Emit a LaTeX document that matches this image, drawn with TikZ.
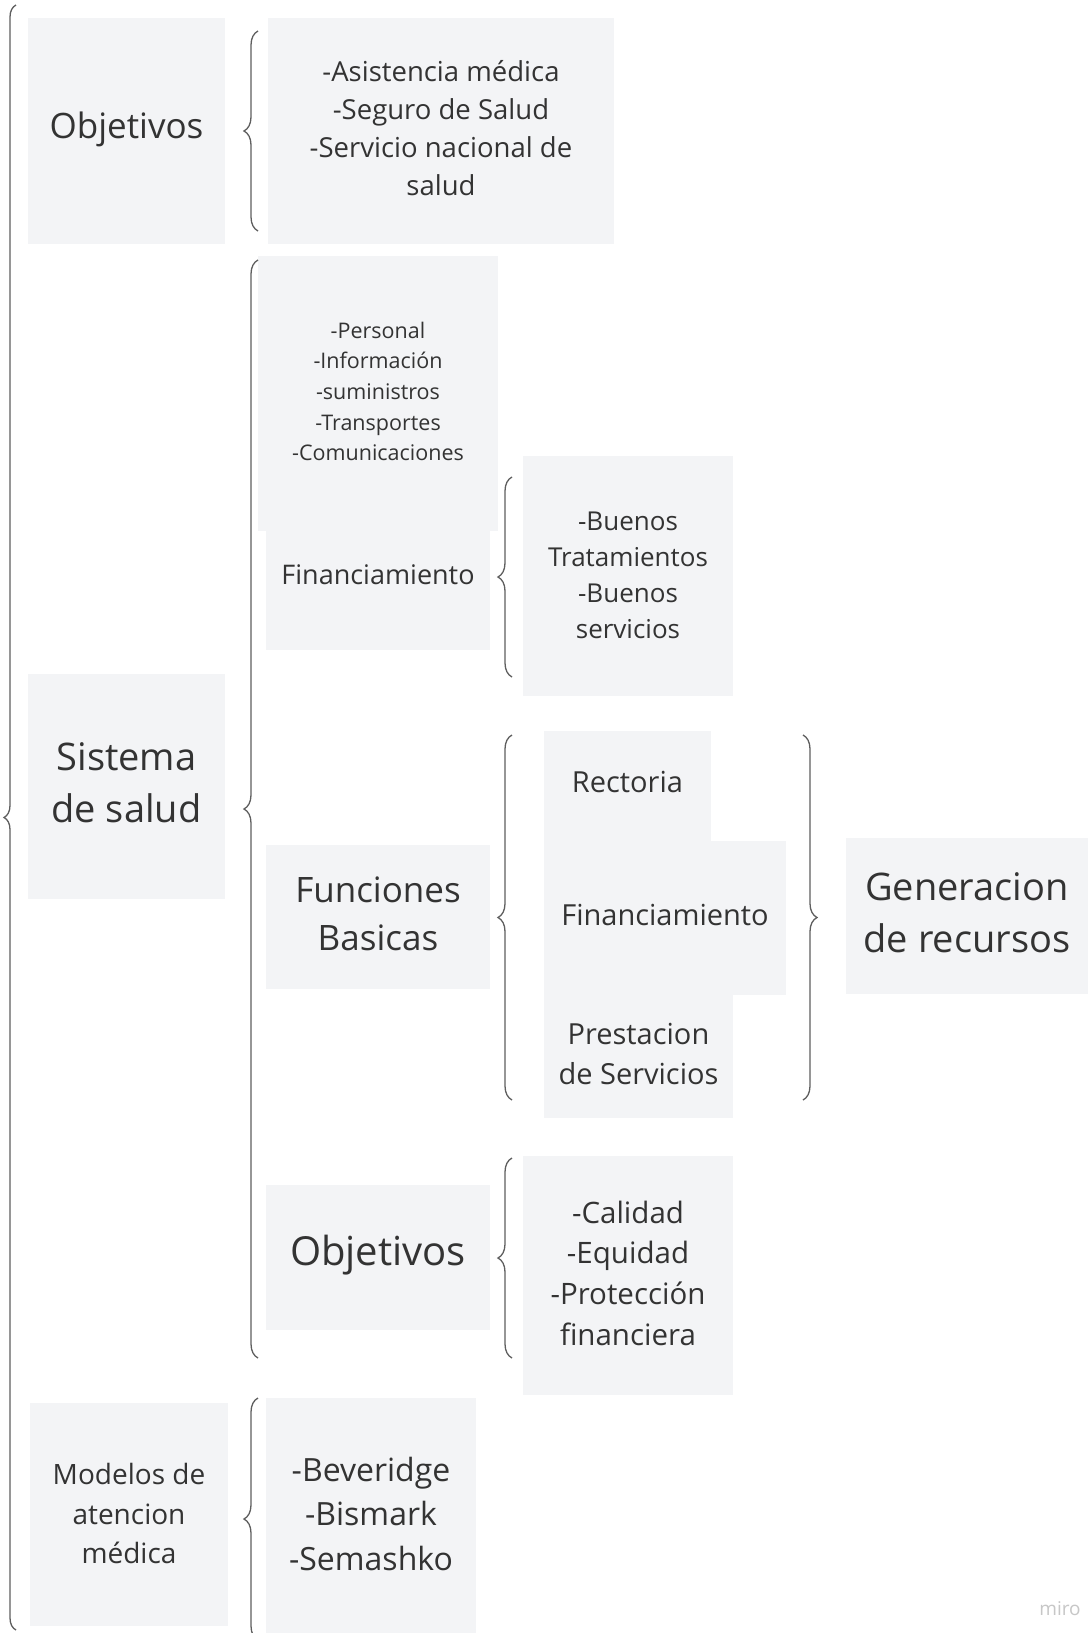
\documentclass[tikz,border=0pt]{standalone}
\usepackage{fontspec}
\setmainfont{Open Sans}
\usetikzlibrary{decorations.pathreplacing}
\definecolor{boxgray}{HTML}{F3F4F6}
\definecolor{txtgray}{HTML}{333333}
\definecolor{bracegray}{HTML}{5E5E5E}
\tikzset{
  box/.style={fill=boxgray, draw=none, inner sep=0pt},
  txt/.style={text=txtgray, align=center, inner sep=0pt},
  brc/.style={draw=bracegray, line width=1.3pt, decorate,
    decoration={brace, amplitude=14pt, aspect=0.5}},
  obrc/.style={draw=bracegray, line width=1.3pt, decorate,
    decoration={brace, amplitude=12pt, aspect=0.5}},
}
\newcommand{\fs}[2]{\fontsize{#1pt}{#2pt}\selectfont}
\begin{document}
\begin{tikzpicture}[x=1pt,y=-1pt]
\useasboundingbox (0,0) rectangle (1091,1633);
\fill[white] (0,0) rectangle (1091,1633);

% boxes
\node[box, minimum width=197, minimum height=226] (obj1) at (126.5,131) {};
\node[box, minimum width=346, minimum height=226] (asis) at (441,131) {};
\node[box, minimum width=197, minimum height=225] (sis) at (126.5,786.5) {};
\node[box, minimum width=240, minimum height=275] (pers) at (378,393.5) {};
\node[box, minimum width=224, minimum height=119] (fin1) at (378,590.5) {};
\node[box, minimum width=210, minimum height=240] (buen) at (628,576) {};
\node[box, minimum width=224, minimum height=144] (func) at (378,917) {};
\node[box, minimum width=167, minimum height=110] (rect) at (627.5,786) {};
\node[box, minimum width=242, minimum height=154] (fin2) at (665,918) {};
\node[box, minimum width=189, minimum height=123] (prest) at (638.5,1056.5) {};
\node[box, minimum width=242, minimum height=156] (gen) at (967,916) {};
\node[box, minimum width=224, minimum height=145] (obj2) at (378,1257.5) {};
\node[box, minimum width=210, minimum height=239] (cal) at (628,1275.5) {};
\node[box, minimum width=198, minimum height=223] (mod) at (129,1514.5) {};
\node[box, minimum width=210, minimum height=235] (bev) at (371,1515.5) {};

% texts
\node[txt, font=\fs{35}{46}] (obj1t) at (126.5,129) {Objetivos};
\node[txt, font=\fs{27.5}{38}] (asist) at (441,128) {-Asistencia médica\\-Seguro de Salud\\-Servicio nacional de\\salud};
\node[txt, font=\fs{38}{52}] (sist) at (126.5,783) {Sistema\\de salud};
\node[txt, font=\fs{21.5}{30.7}] (perst) at (378,391.5) {-Personal\\-Información\\-suministros\\-Transportes\\-Comunicaciones};
\node[txt, font=\fs{27}{36}] (fin1t) at (378,575) {Financiamiento};
\node[txt, font=\fs{26}{36}] (buent) at (628,575) {-Buenos\\Tratamientos\\-Buenos\\servicios};
\node[txt, font=\fs{35}{48}] (funct) at (378,914) {Funciones\\Basicas};
\node[txt, font=\fs{29}{40}] (rectt) at (627.5,782) {Rectoria};
\node[txt, font=\fs{29}{40}] (fin2t) at (665,915) {Financiamiento};
\node[txt, font=\fs{29}{40}] (prestt) at (638.5,1054) {Prestacion\\de Servicios};
\node[txt, font=\fs{38}{52}] (gent) at (967,913) {Generacion\\de recursos};
\node[txt, font=\fs{40}{50}] (obj2t) at (378,1255) {Objetivos};
\node[txt, font=\fs{29.5}{40.7}] (calt) at (628,1273) {-Calidad\\-Equidad\\-Protección\\financiera};
\node[txt, font=\fs{28}{39.5}] (modt) at (129,1513.5) {Modelos de\\atencion\\médica};
\node[txt, font=\fs{32}{44.5}] (bevt) at (371,1513.5) {-Beveridge\\-Bismark\\-Semashko};
\node[txt, text=black!22, font=\fs{19}{22}] (miro) at (1060,1609) {miro};

% braces
\coordinate (ob1) at (16,1630); \coordinate (ob2) at (16,5);
\draw[obrc] (ob1) -- (ob2);
\coordinate (b1a) at (258,231); \coordinate (b1b) at (258,31);
\draw[brc] (b1a) -- (b1b);
\coordinate (b2a) at (258,1358); \coordinate (b2b) at (258,260);
\draw[brc] (b2a) -- (b2b);
\coordinate (b3a) at (512,677); \coordinate (b3b) at (512,477);
\draw[brc] (b3a) -- (b3b);
\coordinate (b4a) at (512,1100); \coordinate (b4b) at (512,735);
\draw[brc] (b4a) -- (b4b);
\coordinate (b5a) at (803,735); \coordinate (b5b) at (803,1100);
\draw[brc] (b5a) -- (b5b);
\coordinate (b6a) at (512,1358); \coordinate (b6b) at (512,1158);
\draw[brc] (b6a) -- (b6b);
\coordinate (b7a) at (258,1640); \coordinate (b7b) at (258,1398);
\draw[brc] (b7a) -- (b7b);
\end{tikzpicture}
\end{document}
